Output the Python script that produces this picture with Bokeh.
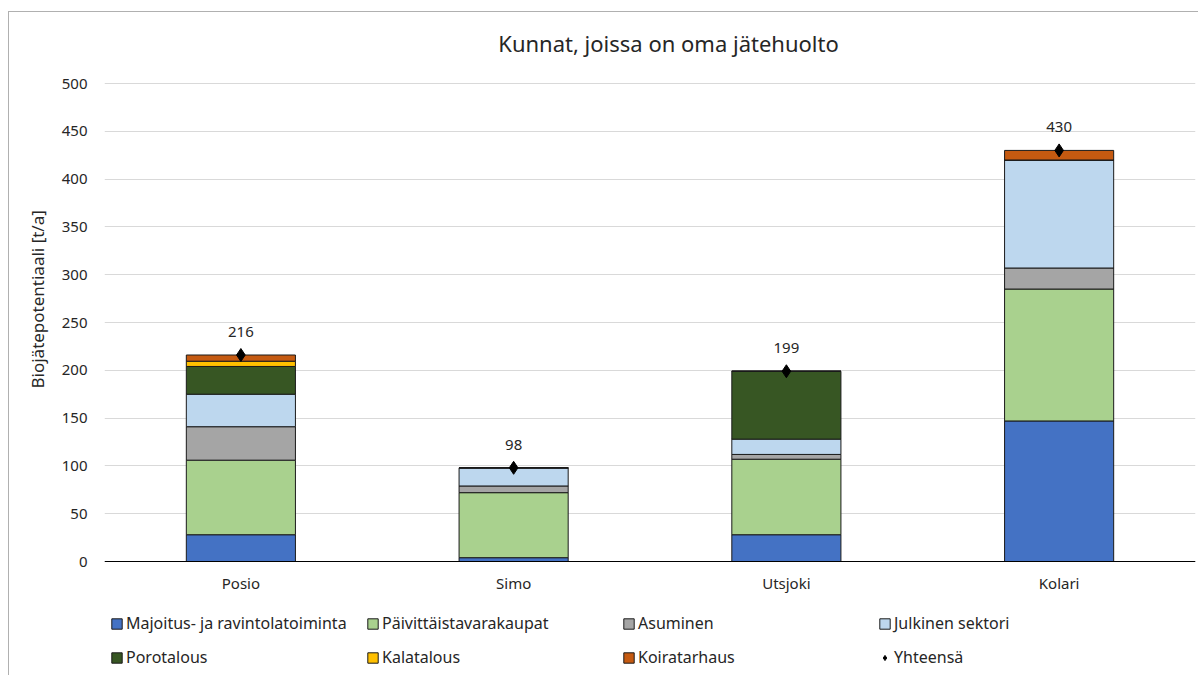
from bokeh.plotting import figure
from bokeh.models import (Legend, LegendItem, Label, Range1d, FixedTicker, Span, Title)
from bokeh.core.properties import value
from bokeh.embed import file_html
from bokeh.resources import INLINE

# ---- data ----
municipalities = ["Posio", "Simo", "Utsjoki", "Kolari"]
majoitus = [28, 4, 28, 147]
paivittaistavarakaupat = [78, 68, 79, 138]
asuminen = [35, 7, 5, 22]
julkinen = [34, 19, 16, 113]
porotalous = [29, 0, 71, 0]
kalatalous = [5.5, 0, 0, 0]
koiratarhaus = [6.5, 0, 0, 10]
totals = [216, 98, 199, 430]
total_labels = ["216", "98", "199", "430"]
y_ticks = [0, 50, 100, 150, 200, 250, 300, 350, 400, 450, 500]
series_names = ["Majoitus- ja ravintolatoiminta", "Päivittäistavarakaupat", "Asuminen",
                "Julkinen sektori", "Porotalous", "Kalatalous", "Koiratarhaus"]
total_name = "Yhteensä"
title_text = "Kunnat, joissa on oma jätehuolto"
y_title = "Biojätepotentiaali [t/a]"

colors = ["#4472C4", "#A9D18E", "#A5A5A5", "#BDD7EE", "#375623", "#FFC000", "#C55A11"]
keys = ["s0", "s1", "s2", "s3", "s4", "s5", "s6"]

FONT = "Noto Sans"
TXT = "#262626"

data = dict(x=municipalities, total=totals, lbl=total_labels, zero=[0] * len(municipalities))
for k, arr in zip(keys, [majoitus, paivittaistavarakaupat, asuminen, julkinen,
                         porotalous, kalatalous, koiratarhaus]):
    data[k] = arr

# frame spans page y 12..676; value 0 sits at page y 561, 500 at page y 83
px_per_unit = 478 / 500
y_lo = -(676 - 561) / px_per_unit
y_hi = (561 - 12) / px_per_unit

p = figure(x_range=municipalities, y_range=Range1d(y_lo, y_hi), width=1190, height=664,
           output_backend="svg", toolbar_location=None, x_axis_location=None,
           min_border_left=95, min_border_right=4, min_border_top=0, min_border_bottom=0)
p.styles = {"margin-left": "8px", "margin-top": "11px",
            "border-left": "1px solid #b0b0b0", "border-top": "1px solid #b0b0b0"}
p.outline_line_color = None
p.background_fill_color = "white"
p.border_fill_color = "white"

# grid and axis
p.yaxis.ticker = FixedTicker(ticks=y_ticks)
p.yaxis.axis_line_color = None
p.yaxis.major_tick_line_color = None
p.yaxis.minor_tick_line_color = None
p.yaxis.major_tick_out = 0
p.yaxis.major_label_standoff = 17
p.yaxis.major_label_text_font = FONT
p.yaxis.major_label_text_font_size = "15px"
p.yaxis.major_label_text_color = TXT
p.xgrid.grid_line_color = None
p.ygrid.grid_line_color = "#d9d9d9"
p.ygrid.grid_line_width = 1
p.add_layout(Span(location=0, dimension="width", line_color="#000000", line_width=1))

bars = p.vbar_stack(keys, x="x", width=0.4, source=data, color=colors,
                    line_color="#1a1a1a", line_width=1)
tot = p.scatter(x="x", y="total", source=data, marker="diamond",
                size=13, color="black")
p.text(x="x", y="total", text="lbl", source=data, y_offset=-23,
       text_align="center", text_baseline="middle", text_font=value(FONT),
       text_font_size="15px", text_color=TXT)
# category labels under the axis line
p.text(x="x", y="zero", text="x", source=data, y_offset=21,
       text_align="center", text_baseline="middle", text_font=value(FONT),
       text_font_size="15px", text_color=TXT)

# chart title
p.add_layout(Label(x=2.068, y=(561 - 42) / px_per_unit, text=title_text, text_align="center",
                   text_baseline="middle", text_font=FONT, text_font_size="22px",
                   text_color=TXT))
# y-axis title
p.add_layout(Title(text=y_title, align="left", offset=288, standoff=20,
                   text_font=FONT, text_font_size="17px", text_font_style="normal",
                   text_color=TXT), "left")

# legend: four columns of two rows
renderers = list(bars) + [tot]
names = series_names + [total_name]
columns = [(0, 4), (1, 5), (2, 6), (3, 7)]
xs = [6, 262, 518, 774]
for (a, b), lx in zip(columns, xs):
    lg = Legend(items=[LegendItem(label=names[a], renderers=[renderers[a]]),
                       LegendItem(label=names[b], renderers=[renderers[b]])],
                location=(lx, 7), orientation="vertical",
                glyph_width=13, glyph_height=13, label_standoff=3,
                label_height=24, spacing=10, padding=0, margin=0,
                border_line_color=None, background_fill_alpha=0,
                label_text_font=FONT, label_text_font_size="16px",
                label_text_color=TXT)
    p.add_layout(lg)

open("out.html", "w").write(file_html(p, INLINE))
